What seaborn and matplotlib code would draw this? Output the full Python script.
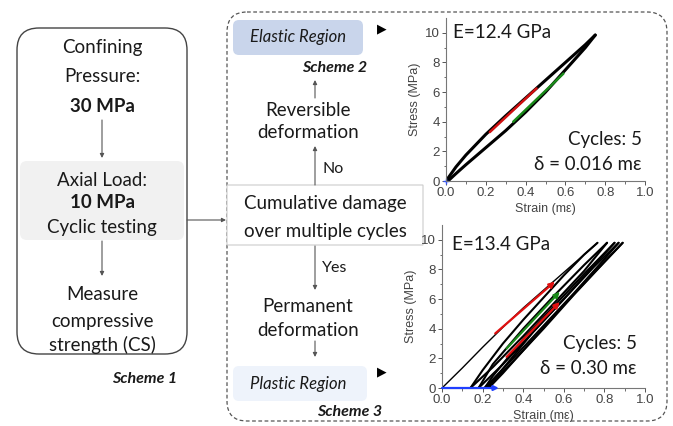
import numpy as np
import pandas as pd
import matplotlib
matplotlib.use("Agg")
import matplotlib.pyplot as plt
import seaborn as sns
from matplotlib.patches import FancyBboxPatch

sns.set_style("ticks")
plt.rcParams['font.family'] = ['Lato', 'DejaVu Sans']

# ---- data: elastic scheme (upper plot) ----
el_load_strain = [0.0, 0.05, 0.1, 0.2, 0.3, 0.4, 0.5, 0.6, 0.7, 0.75]
el_load_stress = [0.0, 0.95, 1.75, 3.15, 4.4, 5.6, 6.8, 8.0, 9.2, 9.85]
el_unload_strain = [0.75, 0.7, 0.6, 0.5, 0.4, 0.3, 0.2, 0.1, 0.05, 0.01]
el_unload_stress = [9.85, 9.0, 7.5, 6.0, 4.65, 3.4, 2.25, 1.1, 0.5, 0.0]
el_red_strain = [0.22, 0.455]
el_red_stress = [3.3, 6.25]
el_green_strain = [0.338, 0.59]
el_green_stress = [4.0, 7.25]

# ---- data: plastic scheme (lower plot), 5 cycles ----
pl_first_strain = [0.0, 0.1, 0.2, 0.3, 0.4, 0.5, 0.6, 0.7, 0.766]
pl_first_stress = [0.0, 1.35, 2.75, 4.1, 5.4, 6.6, 7.8, 9.0, 9.8]
pl_cycle_strain = [
    [0.766, 0.7, 0.6, 0.5, 0.4, 0.3, 0.2, 0.14],
    [0.14, 0.25, 0.4, 0.55, 0.7, 0.813],
    [0.813, 0.7, 0.55, 0.4, 0.25, 0.18],
    [0.18, 0.3, 0.45, 0.6, 0.75, 0.85],
    [0.85, 0.7, 0.55, 0.4, 0.25, 0.21],
    [0.21, 0.35, 0.5, 0.65, 0.8, 0.87],
    [0.87, 0.75, 0.6, 0.45, 0.3, 0.22],
    [0.22, 0.35, 0.5, 0.65, 0.8, 0.89],
    [0.89, 0.75, 0.6, 0.45, 0.3, 0.23],
]
pl_cycle_stress = [
    [9.8, 9.0, 7.6, 6.1, 4.6, 3.0, 1.2, 0.0],
    [0.0, 1.4, 3.5, 5.7, 7.9, 9.8],
    [9.8, 8.3, 6.2, 4.0, 1.6, 0.0],
    [0.0, 1.6, 3.8, 6.0, 8.3, 9.8],
    [9.8, 7.7, 5.5, 3.3, 0.8, 0.0],
    [0.0, 2.0, 4.2, 6.4, 8.7, 9.8],
    [9.8, 8.2, 6.0, 3.8, 1.3, 0.0],
    [0.0, 1.8, 4.0, 6.3, 8.5, 9.8],
    [9.8, 7.8, 5.6, 3.3, 1.0, 0.0],
]
pl_red1_strain = [0.262, 0.556]
pl_red1_stress = [3.68, 7.18]
pl_green_strain = [0.318, 0.58]
pl_green_stress = [2.66, 6.5]
pl_red2_strain = [0.318, 0.58]
pl_red2_stress = [2.1, 5.8]
pl_blue_strain = [0.0, 0.28]
pl_blue_stress = [0.0, 0.0]

TXT = '#1a1a1a'
ARR = '#555555'

fig = plt.figure(figsize=(6.73, 4.26), dpi=100)
bg = fig.add_axes([0, 0, 1, 1])
bg.set_xlim(0, 673)
bg.set_ylim(426, 0)
bg.axis('off')


def box(x0, y0, x1, y1, fc='none', ec='none', r=6, **kw):
    p = FancyBboxPatch((x0, y0), x1 - x0, y1 - y0,
                       boxstyle=f"round,pad=0,rounding_size={r}",
                       fc=fc, ec=ec, **kw)
    bg.add_patch(p)


def arrow(x0, y0, x1, y1):
    bg.annotate('', xy=(x1, y1), xytext=(x0, y0),
                arrowprops=dict(arrowstyle='-|>', color=ARR, lw=0.8,
                                mutation_scale=6, shrinkA=0, shrinkB=0))


def txt(x, y, s, size=13.5, **kw):
    bg.text(x, y, s, fontsize=size, color=TXT, ha='center', va='center', **kw)


# ---- Scheme 1 (left box) ----
box(17, 28, 187, 354, ec='#444444', r=22, lw=1.0)
txt(102, 47, 'Confining')
txt(102, 77, 'Pressure:')
txt(102, 107, '30 MPa', weight='bold')
arrow(102, 120, 102, 158)
box(20, 161, 184, 240, fc='#f1f1f1', r=7)
txt(102, 180, 'Axial Load:')
txt(102, 203, '10 MPa', weight='bold')
txt(102, 227, 'Cyclic testing')
arrow(102, 241, 102, 276)
txt(102, 295, 'Measure')
txt(102, 321, 'compressive')
txt(102, 345, 'strength (CS)')
txt(145, 379, 'Scheme 1', size=11.5, weight='bold', style='italic')
arrow(187, 220, 226, 220)

# ---- dashed frame ----
box(227, 12, 667, 421, ec='#555555', r=20, lw=0.9, ls=(0, (3, 2)))

# ---- Schemes 2 / 3 flow ----
box(233, 20, 363, 55, fc='#c9d5eb', r=6)
txt(298, 37, 'Elastic Region', size=12, style='italic')
bg.text(382, 29, '\u25B6', fontsize=9, color='black', ha='center', va='center',
        family='DejaVu Sans')
txt(335, 68, 'Scheme 2', size=11.5, weight='bold', style='italic')
arrow(315, 98, 315, 80)
txt(308, 110, 'Reversible')
txt(308, 132, 'deformation')
arrow(315, 185, 315, 146)
txt(333, 169, 'No', size=11.5)

box(227, 185, 423, 245, fc='white', ec='#cccccc', r=0, lw=0.8)
txt(325, 204, 'Cumulative damage')
txt(325, 231, 'over multiple cycles')

arrow(315, 246, 315, 290)
txt(335, 268, 'Yes', size=11.5)
txt(308, 306, 'Permanent')
txt(308, 330, 'deformation')
arrow(315, 341, 315, 357)
box(233, 366, 367, 401, fc='#eef3fb', r=6)
txt(298, 384, 'Plastic Region', size=12, style='italic')
bg.text(382, 372, '\u25B6', fontsize=9, color='black', ha='center', va='center',
        family='DejaVu Sans')
txt(350, 412, 'Scheme 3', size=11.5, weight='bold', style='italic')


def style_axes(ax):
    ax.set_facecolor('none')
    ax.set_xlim(0, 1.0)
    ax.set_ylim(0, 11)
    ax.set_xticks([0, 0.2, 0.4, 0.6, 0.8, 1.0])
    ax.set_xticks(np.arange(0, 1.01, 0.1), minor=True)
    ax.set_yticks([0, 2, 4, 6, 8, 10])
    ax.set_yticks(np.arange(0, 11, 1), minor=True)
    ax.set_xticklabels(['0.0', '0.2', '0.4', '0.6', '0.8', '1.0'])
    for lab in ax.get_xticklabels() + ax.get_yticklabels():
        lab.set_family('Liberation Sans')
    ax.tick_params(which='major', length=3, width=0.7, labelsize=9.5,
                   colors='#555555', labelcolor='#444444', pad=1.5)
    ax.tick_params(which='minor', length=1.8, width=0.6, colors='#555555')
    for s in ['top', 'right']:
        ax.spines[s].set_visible(False)
    for s in ['left', 'bottom']:
        ax.spines[s].set_color('#777777')
        ax.spines[s].set_linewidth(0.8)
    ax.set_xlabel('Strain (m\u03b5)', fontsize=9, color='#444444',
                  family=['Liberation Sans', 'DejaVu Sans'], labelpad=3)
    ax.set_ylabel('Stress (MPa)', fontsize=9, color='#444444',
                  family='Liberation Sans', labelpad=3)


# ---- upper plot (elastic) ----
ax1 = fig.add_axes([0.6627, 0.5751, 0.2957, 0.3826])
el_df = pd.DataFrame({
    'strain': el_load_strain + el_unload_strain,
    'stress': el_load_stress + el_unload_stress,
    'seg': ['load'] * len(el_load_strain) + ['unload'] * len(el_unload_strain),
})
sns.lineplot(data=el_df, x='strain', y='stress', units='seg', estimator=None,
             sort=False, color='black', lw=2.2, ax=ax1)
sns.lineplot(x=el_red_strain, y=el_red_stress, sort=False, color='#d01010',
             lw=1.8, ax=ax1)
sns.lineplot(x=el_green_strain, y=el_green_stress, sort=False, color='#1a8a1a',
             lw=1.8, ax=ax1)
ax1.plot(el_load_strain[0], el_load_stress[0], marker='+', color='#3355ff',
         ms=5, clip_on=False)
style_axes(ax1)

# ---- lower plot (plastic) ----
ax2 = fig.add_axes([0.6568, 0.0892, 0.3016, 0.3826])
sns.lineplot(x=pl_first_strain, y=pl_first_stress, sort=False, color='black',
             lw=1.0, ax=ax2)
rows = []
for i, (xs, ys) in enumerate(zip(pl_cycle_strain, pl_cycle_stress)):
    for x, y in zip(xs, ys):
        rows.append((x, y, i))
pl_df = pd.DataFrame(rows, columns=['strain', 'stress', 'seg'])
sns.lineplot(data=pl_df, x='strain', y='stress', units='seg', estimator=None,
             sort=False, color='black', lw=1.5, ax=ax2)
for xs, ys, c in [(pl_red1_strain, pl_red1_stress, '#e01010'),
                  (pl_green_strain, pl_green_stress, '#1a8a1a'),
                  (pl_red2_strain, pl_red2_stress, '#e01010')]:
    ax2.annotate('', xy=(xs[-1], ys[-1]), xytext=(xs[0], ys[0]),
                 arrowprops=dict(arrowstyle='-|>', color=c, lw=1.6,
                                 mutation_scale=8, shrinkA=0, shrinkB=0))
ax2.annotate('', xy=(pl_blue_strain[1], pl_blue_stress[1]),
             xytext=(pl_blue_strain[0], pl_blue_stress[0]),
             arrowprops=dict(arrowstyle='-|>', color='#1f3fff', lw=1.6,
                             mutation_scale=7, shrinkA=0, shrinkB=0),
             annotation_clip=False)
style_axes(ax2)

# ---- plot annotations ----
bg.text(453, 32, 'E=12.4 GPa', fontsize=13.5, color=TXT, va='center')
bg.text(642, 140, 'Cycles: 5', fontsize=13.5, color=TXT, ha='right', va='center')
bg.text(642, 164, '\u03b4 = 0.016 m\u03b5', fontsize=13.5, color=TXT, ha='right',
        va='center')
bg.text(452, 245, 'E=13.4 GPa', fontsize=13.5, color=TXT, va='center')
bg.text(637, 343, 'Cycles: 5', fontsize=13.5, color=TXT, ha='right', va='center')
bg.text(637, 368, '\u03b4 = 0.30 m\u03b5', fontsize=13.5, color=TXT, ha='right',
        va='center')

fig.savefig('out.png', dpi=100)
